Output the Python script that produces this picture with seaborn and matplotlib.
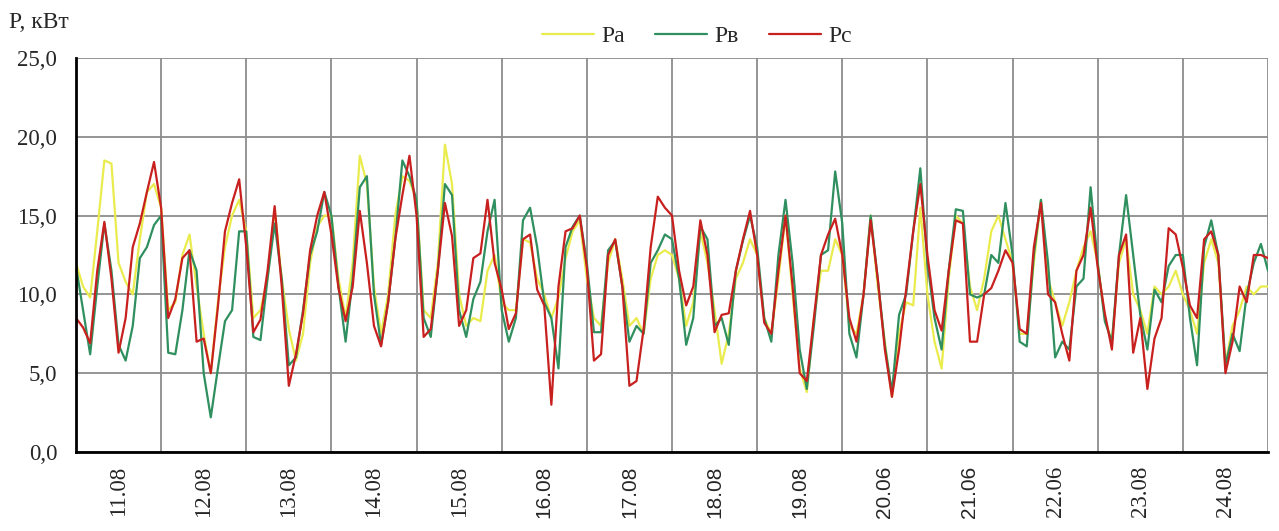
import numpy as np
import pandas as pd
import matplotlib.pyplot as plt
import seaborn as sns

# day labels as printed on the chart
days = ['11.08', '12.08', '13.08', '14.08', '15.08', '16.08', '17.08',
        '18.08', '19.08', '20.06', '21.06', '22.06', '23.08', '24.08']

# power per phase, kW, read every 2 hours (12 values a day, last day + end point)
pa = [12.0, 10.5, 9.8, 14.0, 18.5, 18.3, 12.0, 10.8, 10.0, 13.5, 16.5, 17.0,
      15.5, 9.0, 9.5, 12.5, 13.8, 10.5, 7.5, 5.0, 9.5, 13.0, 15.0, 16.0,
      14.0, 8.5, 9.0, 11.0, 15.4, 11.0, 7.8, 5.8, 7.5, 12.0, 14.3, 15.0,
      15.0, 11.0, 8.5, 12.0, 18.8, 17.0, 10.5, 7.5, 10.0, 15.0, 17.5, 17.2,
      16.0, 9.0, 8.5, 12.0, 19.5, 17.0, 10.0, 8.0, 8.5, 8.3, 11.5, 12.5,
      9.5, 9.0, 9.0, 13.5, 13.3, 11.0, 10.0, 8.5, 9.8, 12.3, 14.0, 14.7,
      11.0, 8.5, 8.0, 12.0, 13.5, 11.0, 8.0, 8.5, 7.5, 11.0, 12.5, 12.8,
      12.5, 11.0, 8.0, 9.5, 14.0, 12.0, 9.0, 5.6, 7.5, 11.0, 12.0, 13.5,
      12.5, 8.5, 7.5, 11.0, 15.0, 10.0, 5.3, 3.8, 8.5, 11.5, 11.5, 13.5,
      12.5, 8.0, 7.5, 10.0, 15.0, 10.5, 7.0, 3.5, 7.5, 9.5, 9.3, 15.5,
      10.0, 7.0, 5.3, 11.0, 15.0, 14.5, 10.5, 9.0, 11.0, 14.0, 15.0, 13.5,
      12.0, 7.5, 7.5, 12.0, 16.0, 11.0, 9.5, 8.0, 9.5, 11.5, 13.0, 14.0,
      12.0, 8.5, 7.0, 12.0, 13.5, 10.0, 9.0, 7.5, 10.5, 10.0, 10.5, 11.5,
      10.0, 9.0, 7.5, 12.0, 13.5, 12.0, 5.5, 8.0, 9.0, 10.5, 10.0, 10.5, 10.5]
pb = [11.8, 9.0, 6.2, 10.5, 14.5, 11.5, 6.8, 5.8, 8.0, 12.3, 13.0, 14.4,
      15.0, 6.3, 6.2, 9.0, 12.8, 11.5, 5.0, 2.2, 5.3, 8.3, 9.0, 14.0,
      14.0, 7.3, 7.1, 11.0, 14.5, 11.0, 5.5, 6.0, 9.0, 12.5, 14.0, 16.5,
      15.0, 10.5, 7.0, 11.0, 16.8, 17.5, 10.0, 6.8, 9.5, 13.5, 18.5, 17.5,
      16.0, 8.5, 7.3, 11.5, 17.0, 16.3, 9.0, 7.3, 9.7, 10.8, 14.0, 16.0,
      9.0, 7.0, 8.5, 14.7, 15.5, 13.0, 9.5, 8.5, 5.3, 13.0, 14.3, 15.0,
      12.0, 7.6, 7.6, 12.8, 13.4, 10.5, 7.0, 8.0, 7.5, 12.0, 12.8, 13.8,
      13.5, 11.0, 6.8, 8.5, 14.3, 13.5, 8.0, 8.5, 6.8, 11.5, 13.4, 15.0,
      13.0, 8.5, 7.0, 12.5, 16.0, 12.0, 6.5, 4.0, 8.0, 12.5, 12.8, 17.8,
      14.5, 7.5, 6.0, 10.0, 15.0, 11.0, 6.8, 3.8, 8.7, 10.0, 14.0, 18.0,
      12.0, 8.5, 6.5, 11.5, 15.4, 15.3, 10.0, 9.8, 10.0, 12.5, 12.0, 15.8,
      12.5, 7.0, 6.7, 12.5, 16.0, 12.0, 6.0, 7.0, 6.5, 10.5, 11.0, 16.8,
      12.0, 8.3, 7.0, 12.5, 16.3, 12.5, 8.7, 6.5, 10.3, 9.5, 11.8, 12.5,
      12.5, 8.5, 5.5, 13.0, 14.7, 12.5, 5.5, 7.5, 6.4, 10.0, 12.0, 13.2, 11.5]
pc = [8.5, 7.9, 6.9, 11.5, 14.6, 11.0, 6.3, 8.5, 13.0, 14.5, 16.5, 18.4,
      15.5, 8.5, 9.7, 12.3, 12.8, 7.0, 7.2, 5.0, 9.2, 14.0, 15.8, 17.3,
      13.0, 7.6, 8.4, 11.5, 15.6, 10.5, 4.2, 6.2, 8.8, 12.8, 15.0, 16.5,
      13.8, 10.4, 8.3, 10.5, 15.3, 12.0, 8.0, 6.7, 9.5, 13.5, 16.3, 18.8,
      15.0, 7.3, 7.8, 11.5, 15.8, 13.7, 8.0, 9.0, 12.3, 12.6, 16.0, 12.0,
      10.3, 7.8, 8.8, 13.5, 13.8, 10.3, 9.3, 3.0, 10.5, 14.0, 14.2, 15.0,
      11.7, 5.8, 6.2, 12.5, 13.5, 10.5, 4.2, 4.5, 7.8, 13.0, 16.2, 15.5,
      15.0, 11.5, 9.3, 10.5, 14.7, 12.5, 7.6, 8.7, 8.8, 11.5, 13.5, 15.3,
      12.5, 8.2, 7.5, 11.5, 15.0, 10.5, 5.0, 4.5, 8.5, 12.5, 13.8, 14.8,
      12.5, 8.5, 7.0, 10.0, 14.7, 11.0, 6.5, 3.5, 6.5, 10.3, 14.0, 17.0,
      12.5, 9.0, 7.7, 11.5, 14.7, 14.5, 7.0, 7.0, 10.0, 10.4, 11.5, 12.8,
      12.0, 7.8, 7.5, 13.0, 15.8, 10.0, 9.5, 7.5, 5.8, 11.5, 12.5, 15.5,
      11.7, 8.8, 6.5, 12.5, 13.8, 6.3, 8.5, 4.0, 7.2, 8.5, 14.2, 13.8,
      11.7, 9.3, 8.5, 13.5, 14.0, 12.5, 5.0, 7.0, 10.5, 9.5, 12.5, 12.5, 12.3]

# time axis in days (2-hour steps)
t = np.arange(len(pc)) / 12

df = pd.concat([
    pd.DataFrame({'t': t, 'P': pa, 'phase': 'Pa'}),
    pd.DataFrame({'t': t, 'P': pb, 'phase': 'Pв'}),
    pd.DataFrame({'t': t, 'P': pc, 'phase': 'Pc'}),
])
colors = {'Pa': '#eaec4e', 'Pв': '#2f8f5f', 'Pc': '#c8201e'}

sns.set_style('white')
plt.rcParams['font.family'] = ['Liberation Serif', 'DejaVu Serif']

fig = plt.figure(figsize=(12.79, 5.31), dpi=100)
ax = fig.add_axes([0.0594, 0.1488, 0.9320, 0.7420])

sns.lineplot(data=df, x='t', y='P', hue='phase', palette=colors, ax=ax,
             linewidth=1.6, legend=False)

ax.set_xlim(0, 14)
ax.set_ylim(0, 25)
ax.set_xlabel('')
ax.set_ylabel('')

# day boundaries -> grid + ticks, labels in the middle of each day
ax.set_xticks(np.arange(0, 15))
ax.set_xticklabels([])
ax.set_xticks(np.arange(14) + 0.5, minor=True)
ax.set_xticklabels(days, minor=True, rotation=90, fontsize=16.5)
for i, lab in enumerate(ax.get_xticklabels(minor=True)):
    if 5 <= i <= 10:
        lab.set_family(['Liberation Sans', 'DejaVu Sans'])
        lab.set_fontsize(15)
ax.tick_params(axis='x', which='minor', length=0, pad=10)
ax.tick_params(axis='x', which='major', length=4.5, width=1.5, direction='out', color='black')

yt = [0, 5, 10, 15, 20, 25]
ax.set_yticks(yt)
ax.set_yticklabels([f'{v:.1f}'.replace('.', ',') for v in yt], fontsize=16.5)
ax.tick_params(axis='y', length=6.5, width=1.5, direction='out', color='black', pad=7)

ax.grid(True, which='major', color='#8c8c8c', linewidth=1.3)
ax.set_axisbelow(True)
for s in ['top', 'right']:
    ax.spines[s].set_visible(False)
for s in ['left', 'bottom']:
    ax.spines[s].set_color('black')
    ax.spines[s].set_linewidth(2)
    ax.spines[s].set_zorder(3)

fig.text(9 / 1279, 1 - 23 / 531, 'P, кВт', fontsize=17, va='center', ha='left')

handles = [plt.Line2D([], [], color=colors[k], linewidth=1.6) for k in ['Pa', 'Pв', 'Pc']]
fig.legend(handles, ['Pa', 'Pв', 'Pc'], loc='center', bbox_to_anchor=(0.545, 0.932),
           ncol=3, frameon=False, fontsize=17, handlelength=2.2, columnspacing=1.3,
           handletextpad=0.3)

fig.savefig('out.png', dpi=100)
